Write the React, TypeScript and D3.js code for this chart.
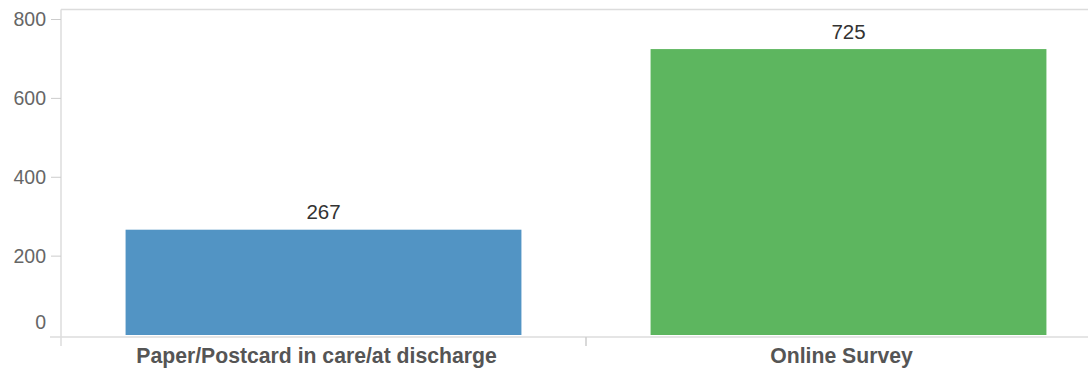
import React from "react";
import * as d3 from "d3";

const categories = ["Paper/Postcard in care/at discharge", "Online Survey"];
const counts = [267, 725];
const barColors = ["#5294c4", "#5db65f"];
const yTicks = [0, 200, 400, 600, 800];

const W = 1088;
const H = 369;
const left = 61;
const right = 1111;
const top = 19.5;
const baseY = 335;

export default function App() {
  const x = d3.scaleBand<string>().domain(categories).range([left, right]);
  const y = d3.scaleLinear().domain([0, 800]).range([baseY, top]);
  const inset = x.bandwidth() * 0.123;
  const font = "'Liberation Sans', Arial, sans-serif";

  return (
    <svg
      width={W}
      height={H}
      style={{ position: "absolute", left: 0, top: 0, display: "block", background: "#fff" }}
      fontFamily={font}
    >
      {/* frame: top border, left axis, bottom axis */}
      <line x1={left} x2={W} y1={9.5} y2={9.5} stroke="#dcdcdc" strokeWidth={1.5} />
      <line x1={left} x2={left} y1={9.5} y2={346} stroke="#dcdcdc" strokeWidth={1.5} />
      <line x1={50} x2={W} y1={337} y2={337} stroke="#dcdcdc" strokeWidth={1.5} />

      {/* y ticks and labels */}
      {yTicks.map((t) => (
        <g key={t}>
          {t > 0 && (
            <line x1={51} x2={left} y1={y(t)} y2={y(t)} stroke="#cccccc" strokeWidth={1} />
          )}
          <text
            x={46}
            y={t === 0 ? y(t) - 13 : y(t)}
            dy="0.35em"
            textAnchor="end"
            fontSize={19.5}
            fill="#666"
          >
            {t}
          </text>
        </g>
      ))}

      {/* x band separators */}
      {categories.slice(1).map((c) => (
        <line
          key={c}
          x1={x(c)!}
          x2={x(c)!}
          y1={337}
          y2={346}
          stroke="#cccccc"
          strokeWidth={1.5}
        />
      ))}

      {/* bars */}
      {categories.map((c, i) => (
        <rect
          key={c}
          x={x(c)! + inset}
          y={y(counts[i])}
          width={x.bandwidth() - 2 * inset}
          height={baseY - y(counts[i])}
          fill={barColors[i]}
        />
      ))}

      {/* value labels */}
      {categories.map((c, i) => (
        <text
          key={c}
          x={x(c)! + x.bandwidth() / 2}
          y={y(counts[i]) - 10.5}
          textAnchor="middle"
          fontSize={20.5}
          fill="#333"
        >
          {counts[i]}
        </text>
      ))}

      {/* category labels */}
      {categories.map((c) => (
        <text
          key={c}
          x={x(c)! + x.bandwidth() / 2 - 7}
          y={363}
          textAnchor="middle"
          fontSize={21.2}
          fontWeight="bold"
          fill="#555"
        >
          {c}
        </text>
      ))}
    </svg>
  );
}
